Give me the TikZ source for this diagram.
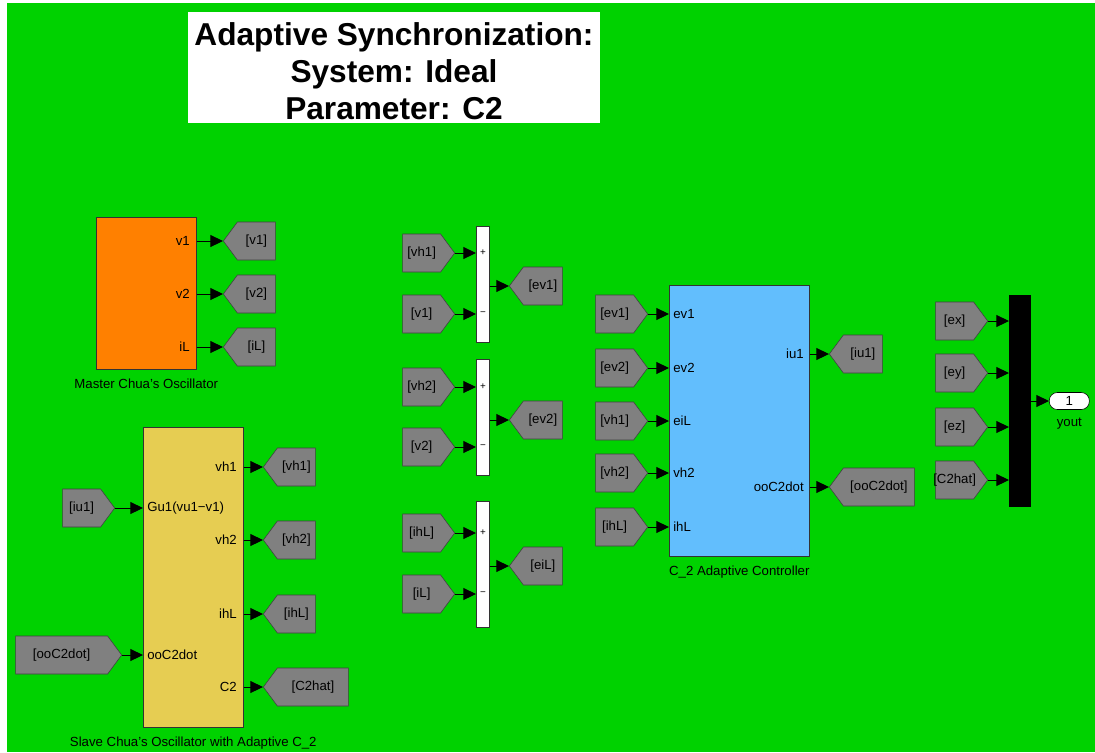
\documentclass[tikz,border=0pt]{standalone}
\usepackage{fontspec}
\setmainfont{Liberation Sans}
\usetikzlibrary{shapes,shapes.symbols,arrows.meta,positioning}
\definecolor{simgreen}{RGB}{0,210,0}
\definecolor{simorange}{RGB}{255,128,0}
\definecolor{simyellow}{RGB}{230,205,82}
\definecolor{simblue}{RGB}{98,190,253}
\definecolor{simgray}{RGB}{128,128,128}

\begin{document}
\begin{tikzpicture}[x=0.025cm, y=-0.025cm, font=\fontsize{9.4}{11}\selectfont]
	\tikzstyle{fromtag} = [signal, signal to=east, signal pointer angle=107, draw=black!75, fill=simgray, minimum height=0.95cm, minimum width=1.3cm, inner sep=1pt, anchor=east]
	\tikzstyle{gototag} = [signal, signal to=west, signal pointer angle=107, draw=black!75, fill=simgray, minimum height=0.95cm, minimum width=1.3cm, inner sep=1pt, anchor=west]
	\tikzstyle{wire} = [draw, line width=0.7pt, -{Triangle[length=9pt,width=8.5pt]}]
	\tikzstyle{subsys} = [rectangle, draw=black!80, anchor=north west, inner sep=0pt]
	\tikzstyle{portin} = [anchor=west, inner sep=0pt]
	\tikzstyle{portout} = [anchor=east, inner sep=0pt]
	\tikzstyle{sumbar} = [rectangle, draw=black!80, fill=white, anchor=north west, minimum width=0.325cm, inner sep=0pt]
	\tikzstyle{sgn} = [inner sep=0pt, font=\fontsize{7}{8}\selectfont]

	\useasboundingbox (0,0) rectangle (1095,752);
	\fill[white] (0,0) rectangle (1095,752);
	\fill[simgreen] (7,3) rectangle (1095,752);

	\node[fill=white, minimum width=10.3cm, minimum height=2.775cm] (titlebox) at (394,67.5) {};
	\node[align=center, font=\fontsize{22.5}{26.3}\selectfont\bfseries] (title) at (394,71.5) {Adaptive Synchronization:\\System: Ideal\\Parameter: C2};

	\node[subsys, fill=simorange, minimum width=2.5cm, minimum height=3.8cm] (master) at (96,217) {};
	\node[below=3pt of master] (masterlbl) {Master Chua's Oscillator};
	\node[portout] (mv1) at (190,241) {v1};
	\node[portout] (mv2) at (190,294) {v2};
	\node[portout] (miL) at (190,347) {iL};
	\node[gototag] (gv1) at (223,241) {[v1]};
	\node[gototag] (gv2) at (223,294) {[v2]};
	\node[gototag] (giL) at (223,347) {[iL]};
	\draw[wire] (master.east |- gv1.west) -- (gv1.west);
	\draw[wire] (master.east |- gv2.west) -- (gv2.west);
	\draw[wire] (master.east |- giL.west) -- (giL.west);

	\node[subsys, fill=simyellow, minimum width=2.5cm, minimum height=7.5cm] (slave) at (143,427) {};
	\node[below=3pt of slave] (slavelbl) {Slave Chua's Oscillator with Adaptive C\_2};
	\node[portin] (sGu) at (147,508) {Gu1(vu1−v1)};
	\node[portin] (soo) at (147,655) {ooC2dot};
	\node[portout] (svh1) at (237,467) {vh1};
	\node[portout] (svh2) at (237,540) {vh2};
	\node[portout] (sihL) at (237,614) {ihL};
	\node[portout] (sC2) at (237,687) {C2};
	\node[fromtag] (fiu1) at (115,508) {[iu1]};
	\node[fromtag, minimum width=2.65cm] (fooC2) at (122,655) {[ooC2dot]};
	\node[gototag] (gvh1) at (263,467) {[vh1]};
	\node[gototag] (gvh2) at (263,540) {[vh2]};
	\node[gototag] (gihL) at (263,614) {[ihL]};
	\node[gototag, minimum width=2.125cm] (gC2hat) at (263,687) {[C2hat]};
	\draw[wire] (fiu1.east) -- (slave.west |- fiu1.east);
	\draw[wire] (fooC2.east) -- (slave.west |- fooC2.east);
	\draw[wire] (slave.east |- gvh1.west) -- (gvh1.west);
	\draw[wire] (slave.east |- gvh2.west) -- (gvh2.west);
	\draw[wire] (slave.east |- gihL.west) -- (gihL.west);
	\draw[wire] (slave.east |- gC2hat.west) -- (gC2hat.west);

	\node[sumbar, minimum height=2.9cm] (sum1) at (476,226) {};
	\node[sgn] (sum1p) at (483,253) {+};
	\node[sgn] (sum1m) at (483,314) {−};
	\node[fromtag] (fvh1) at (455,253) {[vh1]};
	\node[fromtag] (fv1) at (455,314) {[v1]};
	\node[gototag, minimum width=1.325cm] (gev1) at (509,286) {[ev1]};
	\draw[wire] (fvh1.east) -- (sum1.west |- fvh1.east);
	\draw[wire] (fv1.east) -- (sum1.west |- fv1.east);
	\draw[wire] (sum1.east |- gev1.west) -- (gev1.west);

	\node[sumbar, minimum height=2.9cm] (sum2) at (476,359) {};
	\node[sgn] (sum2p) at (483,387) {+};
	\node[sgn] (sum2m) at (483,447) {−};
	\node[fromtag] (fvh2) at (455,387) {[vh2]};
	\node[fromtag] (fv2) at (455,447) {[v2]};
	\node[gototag, minimum width=1.325cm] (gev2) at (509,420) {[ev2]};
	\draw[wire] (fvh2.east) -- (sum2.west |- fvh2.east);
	\draw[wire] (fv2.east) -- (sum2.west |- fv2.east);
	\draw[wire] (sum2.east |- gev2.west) -- (gev2.west);

	\node[sumbar, minimum height=3.15cm] (sum3) at (476,501) {};
	\node[sgn] (sum3p) at (483,533) {+};
	\node[sgn] (sum3m) at (483,594) {−};
	\node[fromtag] (fihL) at (455,533) {[ihL]};
	\node[fromtag] (fiL) at (455,594) {[iL]};
	\node[gototag, minimum width=1.325cm] (geiL) at (509,566) {[eiL]};
	\draw[wire] (fihL.east) -- (sum3.west |- fihL.east);
	\draw[wire] (fiL.east) -- (sum3.west |- fiL.east);
	\draw[wire] (sum3.east |- geiL.west) -- (geiL.west);

	\node[subsys, fill=simblue, minimum width=3.5cm, minimum height=6.775cm] (ctrl) at (669,285) {};
	\node[below=3pt of ctrl] (ctrllbl) {C\_2 Adaptive Controller};
	\node[portin] (cev1) at (673,314) {ev1};
	\node[portin] (cev2) at (673,368) {ev2};
	\node[portin] (ceiL) at (673,421) {eiL};
	\node[portin] (cvh2) at (673,473) {vh2};
	\node[portin] (cihL) at (673,527) {ihL};
	\node[portout] (ciu1) at (804,354) {iu1};
	\node[portout] (cooC2) at (804,487) {ooC2dot};
	\node[fromtag] (fev1) at (648,314) {[ev1]};
	\node[fromtag] (fev2) at (648,368) {[ev2]};
	\node[fromtag] (fcvh1) at (648,421) {[vh1]};
	\node[fromtag] (fcvh2) at (648,473) {[vh2]};
	\node[fromtag] (fcihL) at (648,527) {[ihL]};
	\node[gototag, minimum width=1.325cm] (giu1) at (829,354) {[iu1]};
	\node[gototag, minimum width=2.125cm] (gooC2) at (829,487) {[ooC2dot]};
	\draw[wire] (fev1.east) -- (ctrl.west |- fev1.east);
	\draw[wire] (fev2.east) -- (ctrl.west |- fev2.east);
	\draw[wire] (fcvh1.east) -- (ctrl.west |- fcvh1.east);
	\draw[wire] (fcvh2.east) -- (ctrl.west |- fcvh2.east);
	\draw[wire] (fcihL.east) -- (ctrl.west |- fcihL.east);
	\draw[wire] (ctrl.east |- giu1.west) -- (giu1.west);
	\draw[wire] (ctrl.east |- gooC2.west) -- (gooC2.west);

	\node[subsys, fill=black, draw=black, minimum width=0.525cm, minimum height=5.275cm] (mux) at (1009,295) {};
	\node[fromtag] (fex) at (988,321) {[ex]};
	\node[fromtag] (fey) at (988,373) {[ey]};
	\node[fromtag] (fez) at (988,427) {[ez]};
	\node[fromtag] (fC2hat) at (988,480) {\makebox[0pt]{[C2hat]}};
	\draw[wire] (fex.east) -- (mux.west |- fex.east);
	\draw[wire] (fey.east) -- (mux.west |- fey.east);
	\draw[wire] (fez.east) -- (mux.west |- fez.east);
	\draw[wire] (fC2hat.east) -- (mux.west |- fC2hat.east);

	\node[rectangle, rounded corners=0.2cm, draw=black, fill=white, minimum width=1cm, minimum height=0.425cm, inner sep=0pt, anchor=west] (yout) at (1049,401) {1};
	\node[below=2pt of yout] (youtlbl) {yout};
	\draw[wire] (mux.east |- yout.west) -- (yout.west);
\end{tikzpicture}
\end{document}
